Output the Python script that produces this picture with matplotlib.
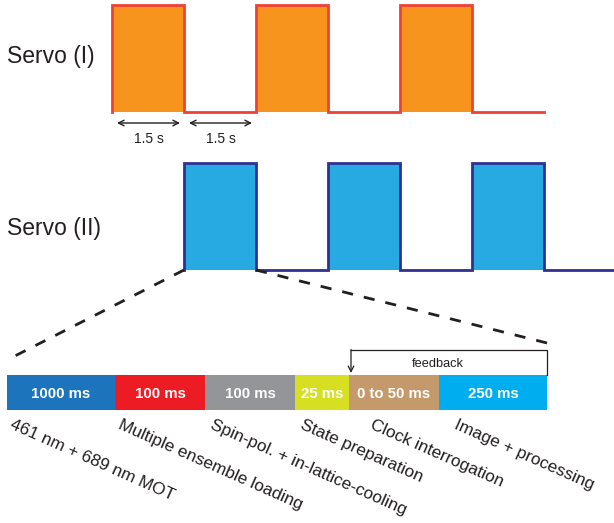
import matplotlib.pyplot as plt
from matplotlib.patches import Rectangle

plt.rcParams["font.family"] = ["Liberation Sans", "DejaVu Sans"]

# servo cycles: 1 = measuring, 0 = idle; each step lasts 1.5 s
HALF_PERIOD_S = 1.5
servo1_levels = [1, 0, 1, 0, 1, 0]
servo2_levels = [1, 0, 1, 0, 1, 0]
servo2_start_s = 1.5
servo2_tail_s = 0.5

# experimental sequence of one servo cycle
seg_times = ["1000 ms", "100 ms", "100 ms", "25 ms", "0 to 50 ms", "250 ms"]
seg_names = [
    "461 nm + 689 nm MOT",
    "Multiple ensemble loading",
    "Spin-pol. + in-lattice-cooling",
    "State preparation",
    "Clock interrogation",
    "Image + processing",
]
seg_colors = ["#1C75BC", "#ED1C24", "#939598", "#D7DF23", "#C49A6C", "#00AEEF"]

# layout only
SEG_UNITS = [6, 5, 5, 3, 5, 6]
LABEL_SHIFT = [7, 7, 9, 9, 25, 19]

W, H = 614, 523
fig = plt.figure(figsize=(W / 100, H / 100), dpi=100)
ax = fig.add_axes([0, 0, 1, 1])
ax.set_xlim(0, W)
ax.set_ylim(H, 0)
ax.axis("off")

X0 = 112
PX_PER_S = 48


def tx(t):
    return X0 + t * PX_PER_S


def draw_servo(levels, t_start, top, bottom, fill, edge, tail=0.0):
    xs, ys = [], []
    t = t_start
    for lv in levels:
        x1, x2 = tx(t), tx(t + HALF_PERIOD_S)
        y = top if lv else bottom
        if lv:
            ax.add_patch(Rectangle((x1, top), x2 - x1, bottom - top,
                                   facecolor=fill, edgecolor="none", zorder=1))
        xs += [x1, x2]
        ys += [y, y]
        t += HALF_PERIOD_S
    if tail:
        xs.append(tx(t + tail))
        ys.append(bottom)
    xs = [xs[0]] + xs
    ys = [bottom] + ys
    ax.plot(xs, ys, color=edge, lw=2, solid_joinstyle="miter", zorder=2)


draw_servo(servo1_levels, 0.0, 5, 112, "#F7941D", "#EF4136")
draw_servo(servo2_levels, servo2_start_s, 163, 270, "#27A9E1", "#2E3192",
           tail=servo2_tail_s)

ax.text(7, 56, "Servo (I)", fontsize=16.5, va="center", ha="left", color="#231F20")
ax.text(7, 228, "Servo (II)", fontsize=16.5, va="center", ha="left", color="#231F20")

# 1.5 s arrows
for k in range(2):
    a = tx(k * HALF_PERIOD_S) + 5
    b = tx((k + 1) * HALF_PERIOD_S) - 4
    ax.annotate("", xy=(a, 123), xytext=(b, 123),
                arrowprops=dict(arrowstyle="<->", color="#231F20", lw=1,
                                shrinkA=0, shrinkB=0))
    ax.text((a + b) / 2, 139, f"{HALF_PERIOD_S} s", fontsize=10,
            ha="center", va="center", color="#231F20")

# sequence bar
BAR_X0, BAR_X1 = 7, 547
BAR_TOP, BAR_BOT = 375, 410
scale = (BAR_X1 - BAR_X0) / sum(SEG_UNITS)
edges = [BAR_X0]
for u in SEG_UNITS:
    edges.append(edges[-1] + u * scale)
for i in range(len(seg_times)):
    x1, x2 = edges[i], edges[i + 1]
    ax.add_patch(Rectangle((x1, BAR_TOP), x2 - x1, BAR_BOT - BAR_TOP,
                           facecolor=seg_colors[i], edgecolor="none", zorder=1))
    ax.text((x1 + x2) / 2, (BAR_TOP + BAR_BOT) / 2 + 1, seg_times[i],
            fontsize=10.8, fontweight="bold", color="white",
            ha="center", va="center")
    ax.text(x1 + LABEL_SHIFT[i], 417, seg_names[i], fontsize=12.4, rotation=-24,
            rotation_mode="anchor", ha="left", va="top", color="#231F20")

# zoom lines from the first servo (II) pulse
ax.plot([tx(servo2_start_s), BAR_X0], [270, 360], color="#231F20",
        lw=2, ls=(0, (4, 4)))
ax.plot([tx(servo2_start_s + HALF_PERIOD_S), BAR_X1], [270, 343],
        color="#231F20", lw=2, ls=(0, (4, 4)))

# feedback bracket
fb_left = edges[4] + 2
ax.plot([BAR_X1, BAR_X1, fb_left], [375, 350, 350], color="#231F20", lw=0.9)
ax.annotate("", xy=(fb_left, 373), xytext=(fb_left, 349.5),
            arrowprops=dict(arrowstyle="->", color="#231F20", lw=0.9,
                            shrinkA=0, shrinkB=0))
ax.text(438, 364, "feedback", fontsize=9.2,
        ha="center", va="center", color="#231F20")

fig.savefig("out.png", dpi=100)
